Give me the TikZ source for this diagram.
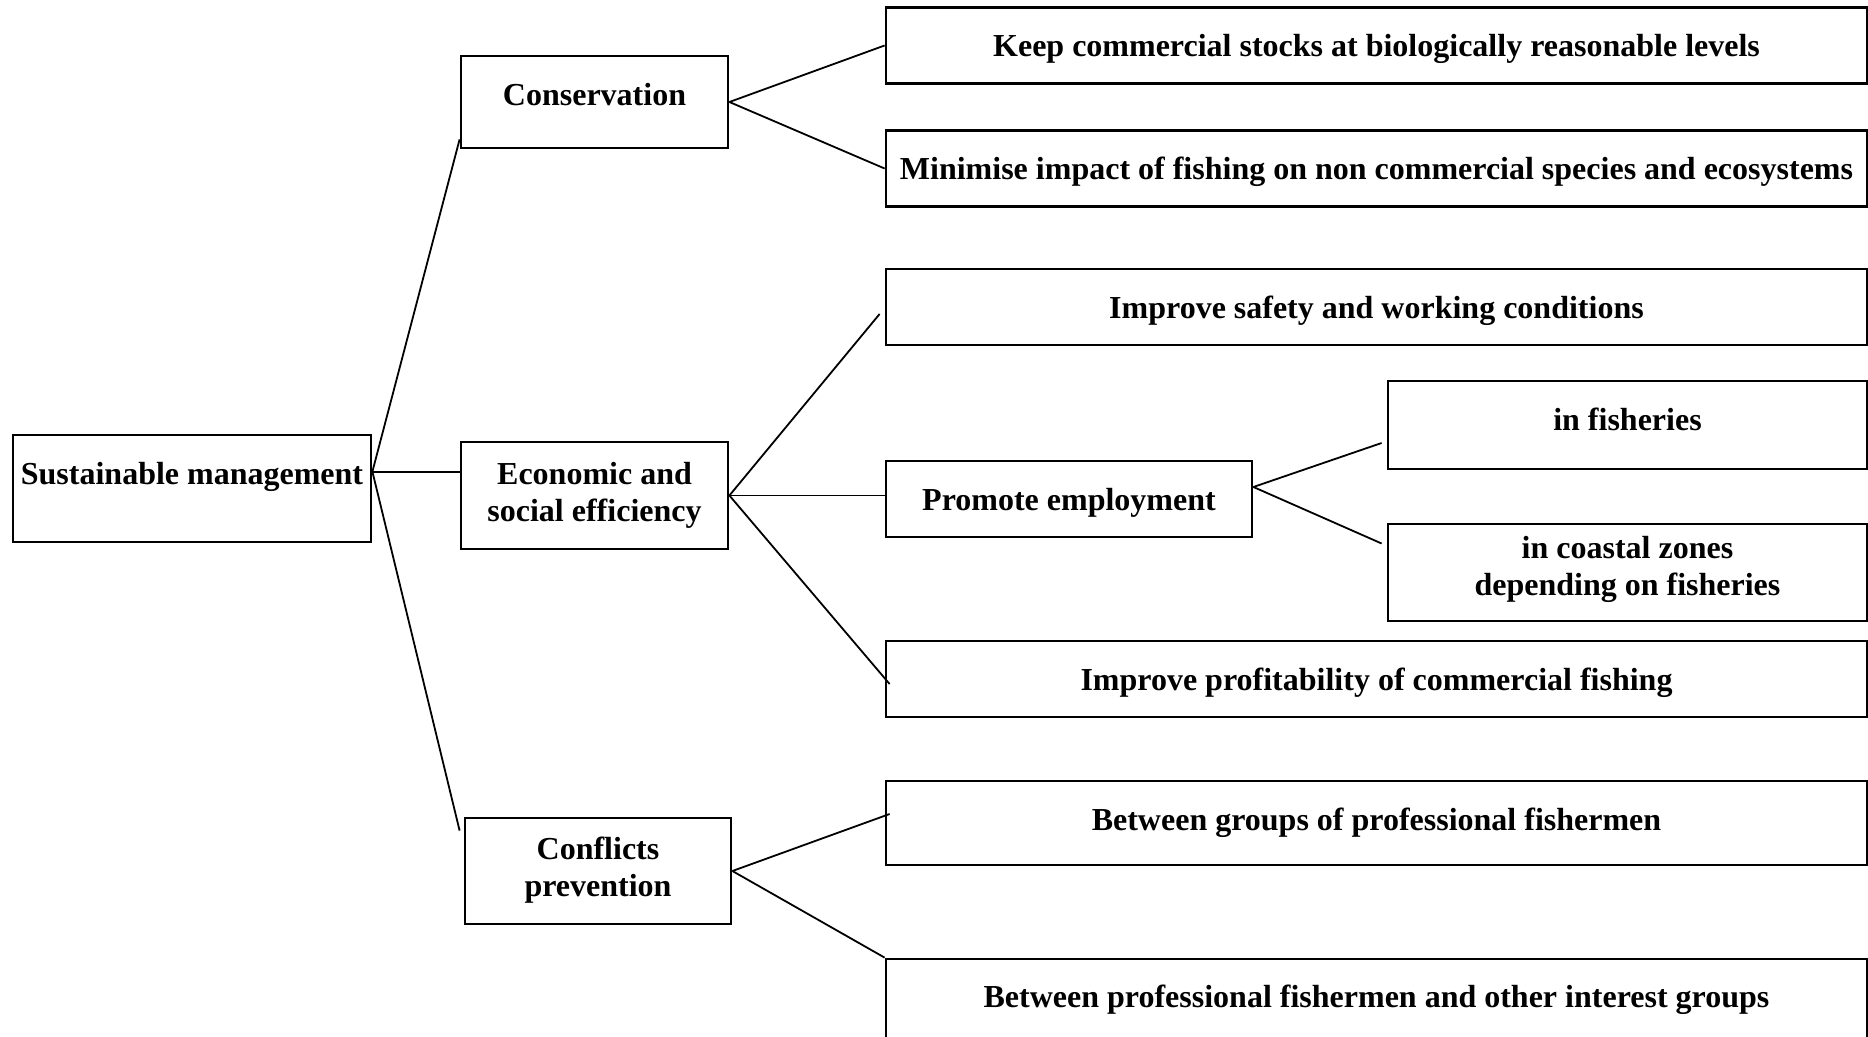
\documentclass[tikz,border=0pt]{standalone}
\usepackage{fontspec}
\setmainfont{Liberation Serif}
\usetikzlibrary{calc}

\begin{document}
\begin{tikzpicture}[x=0.5pt, y=-0.5pt,
    box/.style={draw, line width=1.4pt, inner sep=2pt, align=center, text depth=0pt,
      font=\fontsize{16}{18.5}\selectfont\bfseries},
    wide/.style={box, minimum width=490.5pt, minimum height=38pt},
    lift/.style={text depth=#1},
    link/.style={line width=0.9pt}
  ]
  \useasboundingbox (0,0) rectangle (1868,1037);

  % root and the three aims
  \node[box, minimum width=179pt, minimum height=53.5pt, lift=15.5pt] (sustain) at (192,488.5) {Sustainable management};
  \node[box, minimum width=133.5pt, minimum height=46pt, lift=8pt] (cons) at (594.5,102) {Conservation};
  \node[box, minimum width=133.5pt, minimum height=53.5pt, lift=4pt] (econ) at (594.5,495.5) {Economic and\\social efficiency};
  \node[box, minimum width=133pt, minimum height=53pt, lift=4pt] (conf) at (598,871) {Conflicts\\prevention};

  % objectives
  \node[wide] (keep) at (1376.5,45.5) {Keep commercial stocks at biologically reasonable levels};
  \node[wide] (minimise) at (1376.5,168.5) {Minimise impact of fishing on non commercial species and ecosystems};
  \node[wide] (safety) at (1376.5,307) {Improve safety and working conditions};
  \node[box, minimum width=183pt, minimum height=38pt] (pe) at (1069,499) {Promote employment};
  \node[box, minimum width=239.5pt, minimum height=44pt, lift=6pt] (fish) at (1627.5,425) {in fisheries};
  \node[box, minimum width=239.5pt, minimum height=48.5pt, lift=7pt] (coast) at (1627.5,572.5) {in coastal zones\\depending on fisheries};
  \node[wide] (profit) at (1376.5,679) {Improve profitability of commercial fishing};
  \node[wide, minimum height=42pt, lift=3.5pt] (groups) at (1376.5,823) {Between groups of professional fishermen};
  \node[wide, minimum height=42pt, lift=5pt] (prof) at (1376.5,1001) {Between professional fishermen and other interest groups};

  % connectors
  \coordinate (rootfan) at ($(sustain.north east)+(0,38)$);
  \draw[link] (rootfan) -- (econ.west |- rootfan);
  \draw[link] (rootfan) -- ($(cons.south west)+(0,-10)$);
  \draw[link] (rootfan) -- ($(conf.north west)+(-4,14)$);

  \draw[link] (cons.east) -- (keep.west);
  \draw[link] (cons.east) -- (minimise.west);

  \draw[link] (econ.east) -- ($(safety.west)+(-5,7)$);
  \draw[link] (econ.east) -- (pe.west |- econ.east);
  \draw[link] (econ.east) -- ($(profit.west)+(5,5)$);

  \coordinate (empfan) at ($(pe.east)+(0,-12)$);
  \draw[link] (empfan) -- ($(fish.west)+(-5,18)$);
  \draw[link] (empfan) -- ($(coast.west)+(-5,-29)$);

  \draw[link] (conf.east) -- ($(groups.west)+(5,-9)$);
  \draw[link] (conf.east) -- (prof.north west);
\end{tikzpicture}
\end{document}
